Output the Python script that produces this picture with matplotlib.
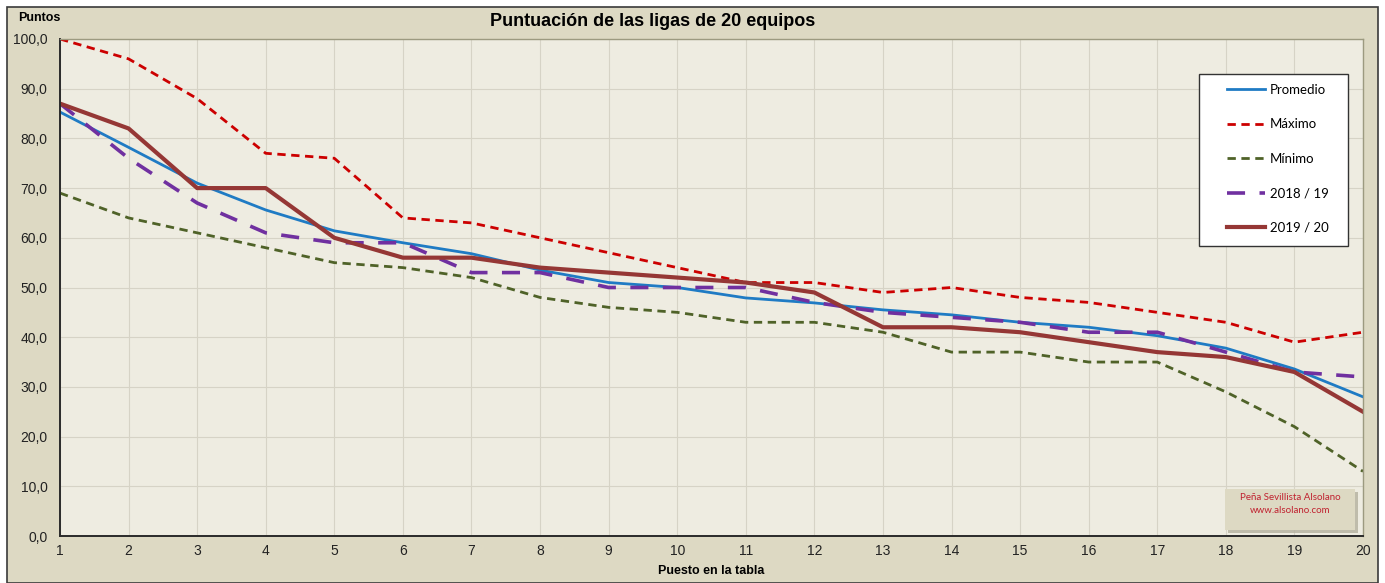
import matplotlib.pyplot as plt
import matplotlib.ticker as ticker
from matplotlib.patches import Rectangle

# Datos
puestos = list(range(1, 21))
promedio = [85.3, 78.2, 71.0, 65.6, 61.4, 59.0, 56.8, 53.5, 51.0, 50.0,
            47.9, 46.9, 45.5, 44.5, 43.0, 42.0, 40.3, 37.8, 33.6, 28.0]
maximo = [100, 96, 88, 77, 76, 64, 63, 60, 57, 54,
          51, 51, 49, 50, 48, 47, 45, 43, 39, 41]
minimo = [69, 64, 61, 58, 55, 54, 52, 48, 46, 45,
          43, 43, 41, 37, 37, 35, 35, 29, 22, 13]
temp_1819 = [87, 76, 67, 61, 59, 59, 53, 53, 50, 50,
             50, 47, 45, 44, 43, 41, 41, 37, 33, 32]
temp_1920 = [87, 82, 70, 70, 60, 56, 56, 54, 53, 52,
             51, 49, 42, 42, 41, 39, 37, 36, 33, 25]

W, H = 1385, 583
plt.rcParams["font.family"] = ["Liberation Sans", "DejaVu Sans"]
fig = plt.figure(figsize=(W / 100, H / 100), dpi=100)
fig.patch.set_facecolor("white")


def px(x, y):
    # pixel (desde arriba-izquierda) -> coordenadas de figura
    return x / W, 1 - y / H


# marco exterior beige
fig.patches.append(Rectangle(px(7, 583), 1371 / W, 576 / H, transform=fig.transFigure,
                             facecolor="#ddd9c3", edgecolor="#3a3a3a", linewidth=1.2, zorder=-10))

ax = fig.add_axes([60 / W, 1 - 536 / H, 1303 / W, 497 / H])
ax.set_facecolor("#eeece1")

ax.plot(puestos, promedio, color="#1f7bc4", lw=2.0, label="Promedio")
ax.plot(puestos, maximo, color="#cc0000", lw=2.0, ls=(0, (3, 2)), label="Máximo")
ax.plot(puestos, minimo, color="#4f6228", lw=2.0, ls=(0, (3, 2)), label="Mínimo")
ax.plot(puestos, temp_1819, color="#7030a0", lw=2.6, ls=(0, (5, 4)), label="2018 / 19")
ax.plot(puestos, temp_1920, color="#953735", lw=3.0, label="2019 / 20")

ax.set_xlim(1, 20)
ax.set_ylim(0, 100)
ax.set_xticks(puestos)
ax.yaxis.set_major_locator(ticker.MultipleLocator(10))
ax.yaxis.set_major_formatter(ticker.FuncFormatter(lambda v, p: f"{v:.1f}".replace(".", ",")))
ax.tick_params(length=0, labelsize=10, colors="#222222", pad=6)
ax.tick_params(axis="y", pad=9)
ax.grid(True, color="#d6d3c6", lw=0.8)
ax.set_axisbelow(True)
for s in ["top", "right"]:
    ax.spines[s].set_color("#9c9a80")
    ax.spines[s].set_linewidth(1.0)
for s in ["left", "bottom"]:
    ax.spines[s].set_color("#2a2a2a")
    ax.spines[s].set_linewidth(1.4)

fig.text(*px(653, 22), "Puntuación de las ligas de 20 equipos", ha="center",
         va="center", fontsize=13, fontweight="bold")
fig.text(*px(18, 18), "Puntos", ha="left", va="center", fontsize=9, fontweight="bold")
fig.text(*px(711, 571), "Puesto en la tabla", ha="center", va="center",
         fontsize=9, fontweight="bold")

# leyenda: recuadro blanco propio + entradas sin marco
caja = Rectangle(px(1199, 246), 149 / W, 172 / H, transform=fig.transFigure,
                 facecolor="white", edgecolor="#333333", linewidth=1.0, zorder=4.5, clip_on=False)
ax.add_patch(caja)
leg = ax.legend(loc="upper left", bbox_to_anchor=px(1227, 84), bbox_transform=fig.transFigure,
                frameon=False, labelspacing=1.7, prop={"family": "Lato", "size": 9.5},
                handlelength=2.9, borderpad=0, handletextpad=0.35, borderaxespad=0)
leg.set_zorder(6)
ax.set_zorder(1)

# cuadro de firma con sombra
fig.patches.append(Rectangle(px(1228, 533), 130 / W, 41 / H, transform=fig.transFigure,
                             facecolor="#b4b09e", edgecolor="none", alpha=0.8, zorder=5))
fig.patches.append(Rectangle(px(1225, 530), 130 / W, 41 / H, transform=fig.transFigure,
                             facecolor="#ddd9c3", edgecolor="none", zorder=6))
fig.text(*px(1290, 504), "Peña Sevillista Alsolano\nwww.alsolano.com", ha="center",
         va="center", fontsize=7, color="#c0212f", linespacing=1.45, family="Lato", zorder=7)

fig.savefig("out.png", dpi=100)
